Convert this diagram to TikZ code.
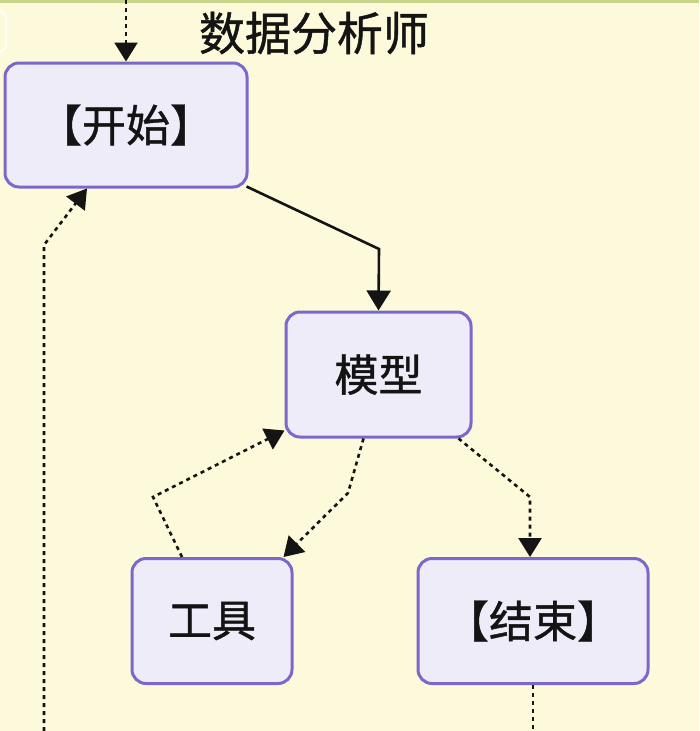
\documentclass[tikz,border=0pt]{standalone}
\usepackage{fontspec}
\newfontfamily\cjk[FakeBold=1.0]{Noto Sans CJK SC}
\usetikzlibrary{arrows.meta}
\definecolor{bgc}{RGB}{252,250,218}
\definecolor{boxfill}{RGB}{238,236,248}
\definecolor{boxline}{RGB}{124,104,204}
\definecolor{topline}{RGB}{200,214,140}
\definecolor{ink}{RGB}{20,20,20}
\tikzset{
  box/.style={draw=boxline, fill=boxfill, line width=3pt, rounded corners=14pt,
    inner sep=0pt, font=\cjk\fontsize{44}{50}\selectfont, text=ink},
  solidedge/.style={draw=ink, line width=2.6pt, -{Triangle[length=20pt,width=24pt]}},
  dashedge/.style={draw=ink, line width=2.6pt, dash pattern=on 4pt off 4pt,
    -{Triangle[length=19pt,width=23pt]}},
  dashline/.style={draw=ink, line width=2.6pt, dash pattern=on 4pt off 4pt},
}
\begin{document}
\begin{tikzpicture}[x=1pt,y=-1pt]
\useasboundingbox (0,0) rectangle (699,731);
\fill[bgc] (0,0) rectangle (699,731);
\fill[topline] (0,0) rectangle (699,3);
\draw[white!80!bgc, line width=2pt, rounded corners=8pt] (-20,10) -- (6,10) -- (6,52) -- (-20,52);
\node[font=\cjk\fontsize{46}{54}\selectfont, text=ink] (title) at (314,33) {数据分析师};
\node[box, minimum width=242pt, minimum height=124pt] (start) at (126,125) {【开始】};
\node[box, minimum width=185pt, minimum height=125pt] (model) at (378.5,374.5) {模型};
\node[box, minimum width=160pt, minimum height=125pt] (tool) at (212,621) {工具};
\node[box, minimum width=230pt, minimum height=125pt] (end) at (533,621) {【结束】};
% top incoming
\coordinate (topin) at (126,0);
\draw[dashedge] (topin) -- (start.north);
% start -> model
\coordinate (s1) at (379,249);
\draw[solidedge] ([xshift=-2pt,yshift=2pt]start.south east) -- (s1) -- (model.north);
% left loop up into start
\coordinate (l0) at (44,731);
\coordinate (l1) at (44,245);
\draw[dashedge] (l0) -- (l1) -- ([xshift=-39pt]start.south);
% model -> tool
\coordinate (m1) at (348,493);
\draw[dashedge] ([xshift=-15pt]model.south) -- (m1) -- ([xshift=-10pt]tool.north east);
% tool -> model
\coordinate (t1) at (153,497);
\draw[dashedge] ([xshift=-30pt]tool.north) -- (t1) -- ([yshift=8pt]model.south west);
% model -> end
\coordinate (e1) at (530,497);
\draw[dashedge] ([xshift=-14pt]model.south east) -- (e1) -- ([xshift=-3pt]end.north);
% end outgoing
\coordinate (endout) at (533,731);
\draw[dashline] (end.south) -- (endout);
\end{tikzpicture}
\end{document}
